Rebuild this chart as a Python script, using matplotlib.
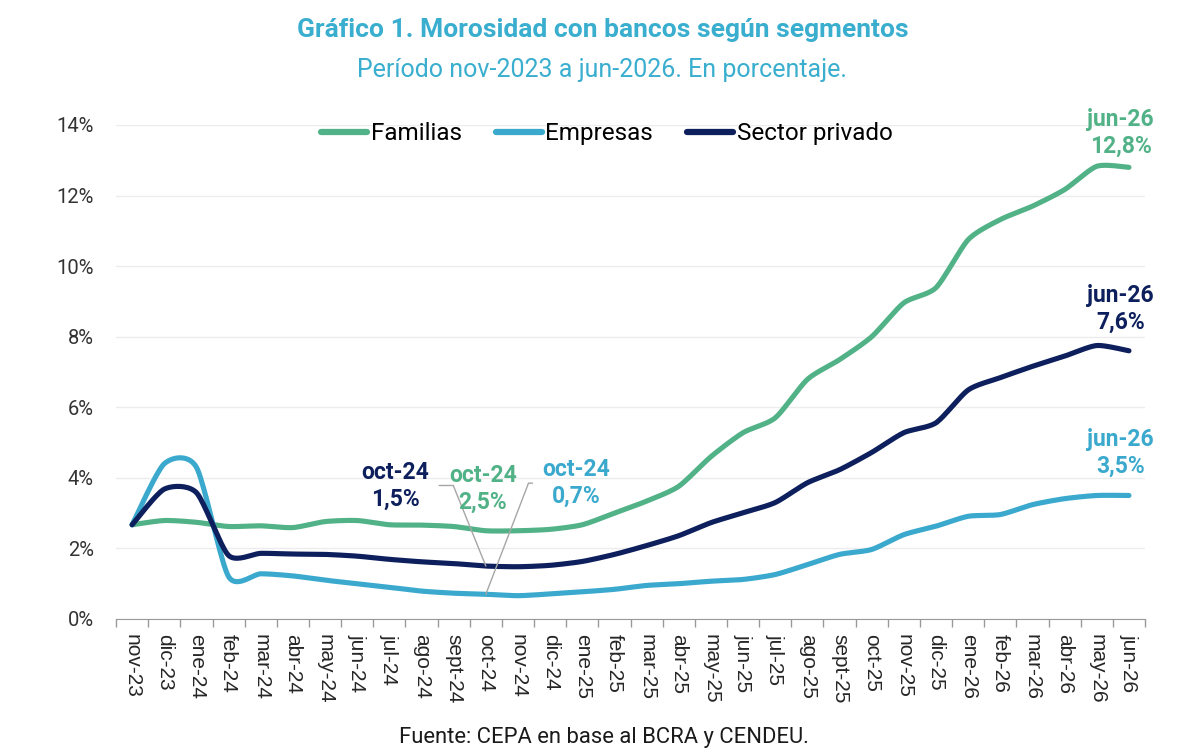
import numpy as np
import matplotlib
matplotlib.use("Agg")
import matplotlib.pyplot as plt

plt.rcParams['font.family'] = ['Roboto', 'DejaVu Sans']

# datos
meses = ['nov-23', 'dic-23', 'ene-24', 'feb-24', 'mar-24', 'abr-24', 'may-24', 'jun-24',
         'jul-24', 'ago-24', 'sept-24', 'oct-24', 'nov-24', 'dic-24', 'ene-25', 'feb-25',
         'mar-25', 'abr-25', 'may-25', 'jun-25', 'jul-25', 'ago-25', 'sept-25', 'oct-25',
         'nov-25', 'dic-25', 'ene-26', 'feb-26', 'mar-26', 'abr-26', 'may-26', 'jun-26']
familias = [2.67, 2.79, 2.74, 2.62, 2.64, 2.59, 2.76, 2.79, 2.67, 2.66, 2.62, 2.5,
            2.5, 2.54, 2.67, 3.0, 3.34, 3.76, 4.6, 5.28, 5.7, 6.79, 7.35, 8.0,
            8.96, 9.39, 10.75, 11.32, 11.7, 12.17, 12.83, 12.8]
empresas = [2.67, 4.4, 4.3, 1.2, 1.28, 1.22, 1.1, 1.0, 0.9, 0.79, 0.73, 0.7,
            0.66, 0.71, 0.77, 0.84, 0.95, 1.0, 1.07, 1.12, 1.26, 1.54, 1.83, 1.97,
            2.39, 2.63, 2.91, 2.96, 3.24, 3.41, 3.5, 3.5]
sector_privado = [2.67, 3.68, 3.58, 1.8, 1.86, 1.84, 1.83, 1.78, 1.69, 1.62, 1.57, 1.5,
                  1.48, 1.52, 1.63, 1.83, 2.08, 2.36, 2.73, 3.01, 3.3, 3.86, 4.23, 4.72,
                  5.28, 5.56, 6.49, 6.84, 7.16, 7.45, 7.75, 7.6]
y_ticks = [0, 2, 4, 6, 8, 10, 12, 14]

VERDE = '#52b287'
CELESTE = '#3aa9cd'
AZUL = '#0d1f5c'
TITULO = '#3aaecf'


def suavizar(y, n=20, k=0.12):
    # curva suave (bezier con tangentes tipo catmull-rom, algo menos tensa)
    y = np.asarray(y, dtype=float)
    x = np.arange(len(y), dtype=float)
    pts = np.column_stack([x, y])
    ext = np.vstack([pts[0], pts, pts[-1]])
    out = []
    t = np.linspace(0, 1, n, endpoint=False)[:, None]
    for i in range(len(pts) - 1):
        p0, p1, p2, p3 = ext[i], ext[i + 1], ext[i + 2], ext[i + 3]
        c1 = p1 + (p2 - p0) * k
        c2 = p2 - (p3 - p1) * k
        seg = ((1 - t) ** 3) * p1 + 3 * ((1 - t) ** 2) * t * c1 + 3 * (1 - t) * t ** 2 * c2 + t ** 3 * p2
        out.append(seg)
    out.append(pts[-1][None, :])
    out = np.vstack(out)
    return out[:, 0], out[:, 1]


def etiqueta(mes, valor):
    return "{}\n{}%".format(mes, ("%.1f" % valor).replace('.', ','))


fig = plt.figure(figsize=(12, 7.53), dpi=100)
ax = fig.add_axes([0.0967, 0.178, 0.8575, 0.656])

series = [("Familias", familias, VERDE), ("Empresas", empresas, CELESTE),
          ("Sector privado", sector_privado, AZUL)]
for nombre, vals, color in series:
    xs, ys = suavizar(vals)
    ax.plot(xs, ys, color=color, lw=3.7, label=nombre, solid_capstyle='round', zorder=3)

ax.set_xlim(-0.5, len(meses) - 0.5)
ax.set_ylim(0, 14)
ax.set_yticks(y_ticks)
ax.set_yticklabels(["%d%%" % v for v in y_ticks], fontsize=14.5, color='#333333')
ax.yaxis.grid(True, color='#ececec', lw=1)
ax.set_axisbelow(True)
ax.tick_params(axis='y', length=0, pad=16)

ax.set_xticks(np.arange(len(meses)))
ax.set_xticklabels(meses, rotation=-90, fontsize=15, color='#262626',
                   family=['Liberation Sans', 'DejaVu Sans'])
ax.set_xticks(np.arange(len(meses) + 1) - 0.5, minor=True)
ax.tick_params(axis='x', which='major', length=0, pad=11)
ax.tick_params(axis='x', which='minor', length=6, color='#999999', width=1)

for side in ['top', 'right', 'left']:
    ax.spines[side].set_visible(False)
ax.spines['bottom'].set_color('#999999')

leg = ax.legend(loc='center', bbox_to_anchor=(0.477, 0.982), ncol=3, frameon=False,
                fontsize=17.5, handlelength=1.9, handletextpad=0.15, columnspacing=1.4)
for h in leg.get_lines():
    h.set_linewidth(4.5)

# etiquetas oct-24
i_oct = meses.index('oct-24')
flecha = dict(arrowstyle='-', color='#a6a6a6', lw=1, shrinkA=5, shrinkB=0)
ax.annotate(etiqueta(meses[i_oct], sector_privado[i_oct]), xy=(i_oct, sector_privado[i_oct]),
            xytext=(-65, 58), textcoords='offset points', ha='center', va='center',
            fontsize=16.5, fontweight='bold', color=AZUL, linespacing=1.2,
            arrowprops=dict(flecha, relpos=(1, 0.5),
                            connectionstyle='angle,angleA=0,angleB=112,rad=0'))
ax.annotate(etiqueta(meses[i_oct], familias[i_oct]), xy=(i_oct, familias[i_oct]),
            xytext=(-2, 30), textcoords='offset points', ha='center', va='center',
            fontsize=16.5, fontweight='bold', color=VERDE, linespacing=1.2)
ax.annotate(etiqueta(meses[i_oct], empresas[i_oct]), xy=(i_oct, empresas[i_oct]),
            xytext=(65, 80), textcoords='offset points', ha='center', va='center',
            fontsize=16.5, fontweight='bold', color=CELESTE, linespacing=1.2,
            arrowprops=dict(flecha, relpos=(0, 0.5),
                            connectionstyle='angle,angleA=0,angleB=69,rad=0'))

# etiquetas jun-26
i_fin = len(meses) - 1
for vals, color, dy in [(familias, VERDE, 25), (sector_privado, AZUL, 30), (empresas, CELESTE, 30.5)]:
    ax.annotate(etiqueta(meses[i_fin], vals[i_fin]), xy=(i_fin, vals[i_fin]),
                xytext=(-6, dy), textcoords='offset points', ha='center', va='center',
                fontsize=16.5, fontweight='bold', color=color, linespacing=1.2)

fig.text(0.502, 0.960, "Gráfico 1. Morosidad con bancos según segmentos", ha='center', va='center',
         fontsize=19, fontweight='bold', color=TITULO)
fig.text(0.502, 0.907, "Período nov-2023 a jun-2026. En porcentaje.", ha='center', va='center',
         fontsize=18, color=TITULO)
fig.text(0.503, 0.020, "Fuente: CEPA en base al BCRA y CENDEU.", ha='center', va='center',
         fontsize=15.8, color='#1a1a1a')

fig.savefig("out.png", dpi=100)
